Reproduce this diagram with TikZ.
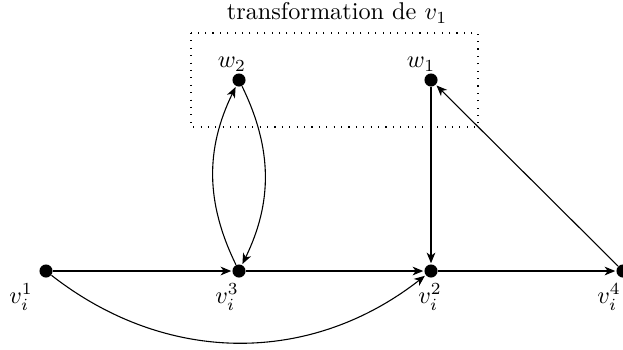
\documentclass[tikz,border=0pt]{standalone}
\usepackage{amsmath}
\usepackage{tikz}
\usetikzlibrary{positioning,arrows.meta}

\tikzset{
  pt/.style={circle, fill=black, inner sep=0pt, minimum size=5.4pt},
  arc/.style={-{Stealth[length=4.4pt,width=3.6pt,inset=1.3pt]}, line width=0.45pt, shorten >=0.3pt},
  cadre/.style={line width=0.45pt, dash pattern=on 0.45pt off 2.6pt}
}

\begin{document}
\begin{tikzpicture}[x=0.0145cm,y=-0.0145cm]
  \useasboundingbox (0,0) rectangle (623,349);
  % sommets du bas
  \node[pt] (v1) at (46,271) {};
  \node[pt] (v3) at (239,271) {};
  \node[pt] (v2) at (431,271) {};
  \node[pt] (v4) at (623,271) {};
  % transformation
  \node[pt] (w2) at (239,80) {};
  \node[pt] (w1) at (431,80) {};
  \draw[cadre] (191,33) rectangle (478,127);
  \node (titre) at (337,13) {transformation de $v_1$};
  % noms
  \node (n1) at (21,297) {$v_i^1$};
  \node (n3) at (227,297) {$v_i^3$};
  \node (n2) at (430,297) {$v_i^2$};
  \node (n4) at (609,297) {$v_i^4$};
  \node (m2) at (232,64) {$w_2$};
  \node (m1) at (421,64) {$w_1$};
  % arcs
  \draw[arc] (v1) -- (v3);
  \draw[arc] (v3) -- (v2);
  \draw[arc] (v2) -- (v4);
  \draw[arc] (w1) -- (v2);
  \draw[arc] (v4) -- (w1);
  \draw[arc] (v3) to[bend left=26] (w2);
  \draw[arc] (w2) to[bend left=26] (v3);
  \draw[arc] (v1) to[bend right=38] (v2);
\end{tikzpicture}
\end{document}
